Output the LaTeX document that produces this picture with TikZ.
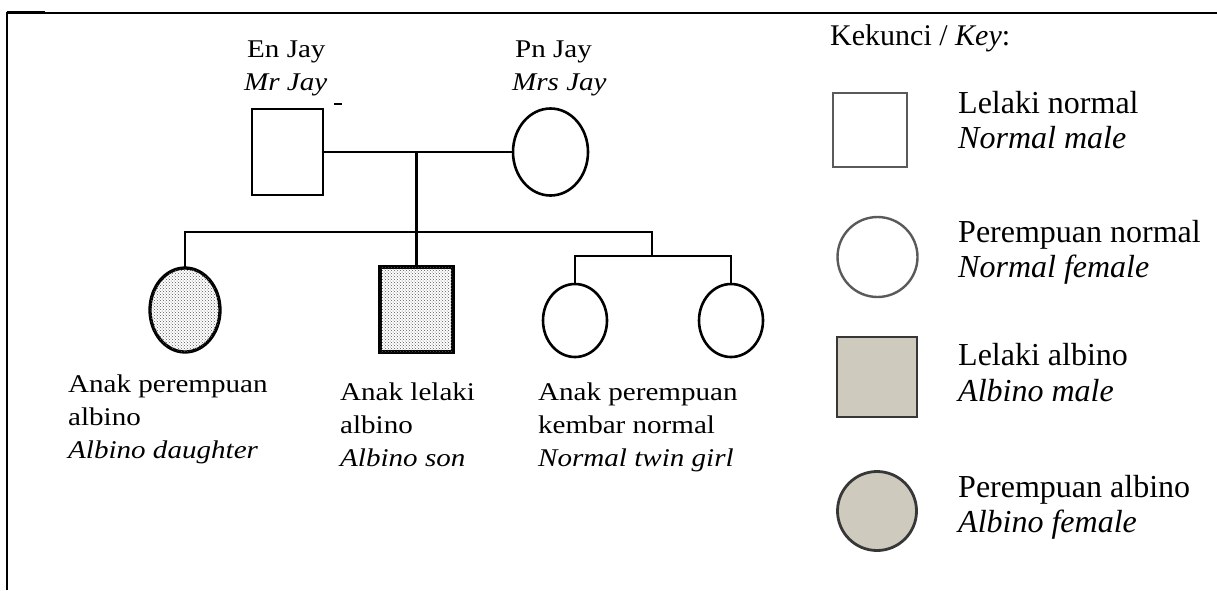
\documentclass[tikz,border=0pt]{standalone}
\usepackage{fontspec}
\setmainfont{Liberation Serif}
\newfontfamily\pedfont{Liberation Serif}[FakeStretch=1.14]
\usetikzlibrary{shapes.geometric,patterns}
\definecolor{keyfill}{RGB}{206,203,190}
\definecolor{keyline}{RGB}{90,90,90}
\definecolor{keydark}{RGB}{55,55,55}
\begin{document}
\begin{tikzpicture}[x=1pt,y=-1pt,
  pedline/.style={line width=2.6pt},
  pbase/.style={draw, line width=2.6pt, inner sep=0pt, outer sep=0pt},
  male/.style={pbase, rectangle},
  female/.style={pbase, ellipse},
  albino/.style={line width=3.3pt, fill=white, postaction={pattern=crosshatch dots, pattern color=black!65}},
  pedtxt/.style={font=\pedfont\fontsize{25.5}{33}\selectfont, anchor=base west, inner sep=0pt},
  pedit/.style={pedtxt, font=\pedfont\fontsize{25.5}{33}\selectfont\itshape},
  keytxt/.style={font=\fontsize{32}{35}\selectfont, anchor=base west, inner sep=0pt},
  keyit/.style={keytxt, font=\fontsize{32}{35}\selectfont\itshape},
  keyshape/.style={draw=keyline, line width=2.4pt, inner sep=0pt, outer sep=0pt},
  keyalb/.style={draw=keydark, line width=2.8pt, fill=keyfill, inner sep=0pt, outer sep=0pt}
]
\useasboundingbox (0,0) rectangle (1217,590);
% frame
\draw[line width=2pt] (6.5,590) -- (6.5,12.5) -- (1217,12.5);
\draw[line width=3pt] (6.5,12.5) -- (45,12.5);

% pedigree shapes
\node[male, minimum width=71pt, minimum height=86pt] (father) at (287.5,152) {};
\node[female, minimum width=75pt, minimum height=87pt] (mother) at (550.5,152) {};
\node[female, albino, minimum width=70pt, minimum height=84pt] (daughter) at (185,310) {};
\node[male, albino, minimum width=73pt, minimum height=85pt] (son) at (416.5,309.5) {};
\node[female, minimum width=64pt, minimum height=73pt] (tw1) at (575,320.5) {};
\node[female, minimum width=64pt, minimum height=73pt] (tw2) at (731,320.5) {};

% connectors
\coordinate (mj) at (416.5,152);
\coordinate (tj) at (652,232);
\coordinate (tb) at (652,256);
\draw[pedline] (father) -- (mother);
\draw[pedline] (mj) -- (son.north);
\draw[pedline] (daughter.north) |- (tj) -- (tb);
\draw[pedline] (tw1.north) |- (tb) -| (tw2.north);
\draw[line width=2pt] (334,104) -- (342,104);

% pedigree labels
\node[pedtxt] (fa1) at (247,57) {En Jay};
\node[pedit]  (fa2) at (244,90) {Mr Jay};
\node[pedtxt] (mo1) at (515,57) {Pn Jay};
\node[pedit]  (mo2) at (512,90) {Mrs Jay};
\node[pedtxt] (da1) at (68,392) {Anak perempuan};
\node[pedtxt] (da2) at (68,425) {albino};
\node[pedit]  (da3) at (68,458) {Albino daughter};
\node[pedtxt] (so1) at (340,400) {Anak lelaki};
\node[pedtxt] (so2) at (340,433) {albino};
\node[pedit]  (so3) at (340,466) {Albino son};
\node[pedtxt] (tw1a) at (538,400) {Anak perempuan};
\node[pedtxt] (tw1b) at (538,433) {kembar normal};
\node[pedit]  (tw1c) at (538,466) {Normal twin girl};

% key
\node[keytxt, font=\fontsize{30}{34}\selectfont] (keyhead) at (830,45) {Kekunci / \textit{Key}:};
\node[keyshape, rectangle, minimum width=74pt, minimum height=74pt] (k1) at (870,130) {};
\node[keyshape, circle, minimum size=80pt] (k2) at (877.5,257) {};
\node[keyalb, rectangle, minimum width=80pt, minimum height=80pt] (k3) at (877,377) {};
\node[keyalb, circle, minimum size=79pt] (k4) at (877,511) {};
\node[keytxt] (k1a) at (958,113) {Lelaki normal};
\node[keyit]  (k1b) at (958,148) {Normal male};
\node[keytxt] (k2a) at (958,242) {Perempuan normal};
\node[keyit]  (k2b) at (958,277) {Normal female};
\node[keytxt] (k3a) at (958,365) {Lelaki albino};
\node[keyit]  (k3b) at (958,401) {Albino male};
\node[keytxt] (k4a) at (958,497) {Perempuan albino};
\node[keyit]  (k4b) at (958,532) {Albino female};
\end{tikzpicture}
\end{document}
